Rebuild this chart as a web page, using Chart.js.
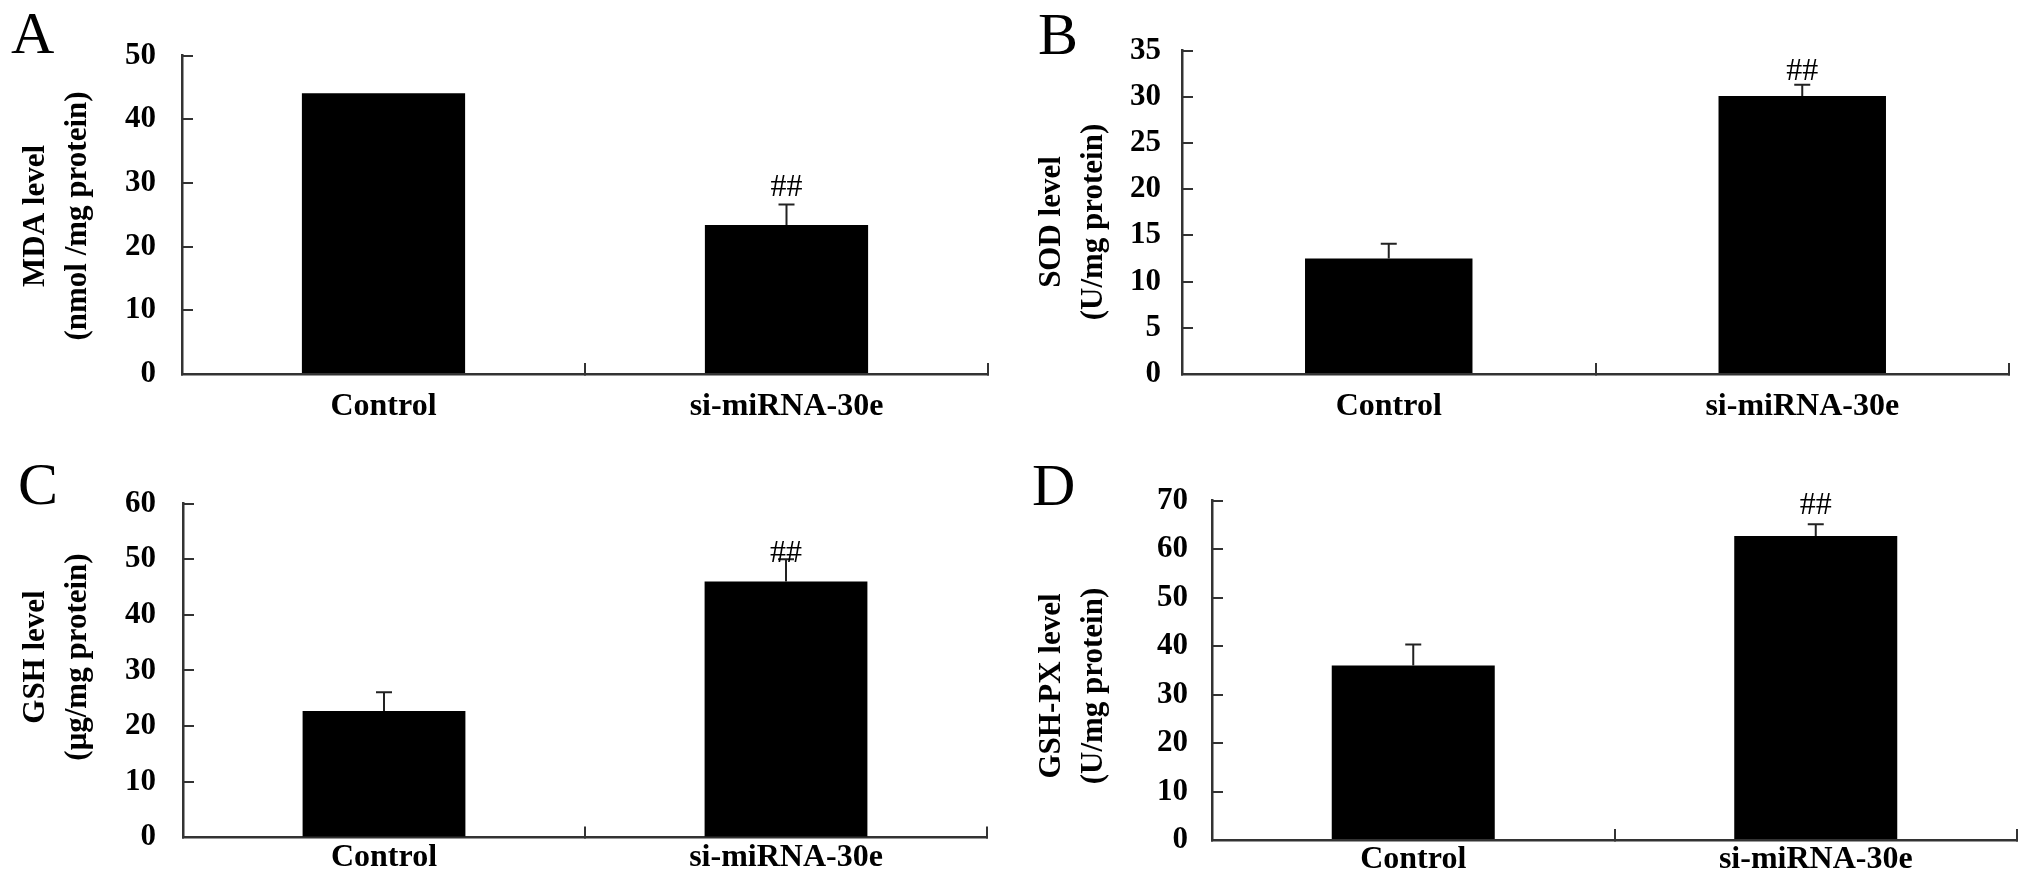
<!DOCTYPE html>
<html>
<head>
<meta charset="utf-8">
<script src="https://cdn.jsdelivr.net/npm/chart.js@4"></script>
<style>
  html, body { margin: 0; padding: 0; background: #fff; }
  #wrap { position: relative; width: 2031px; height: 894px; }
  .panel { position: absolute; }
</style>
</head>
<body>
<div id="wrap">
  <div class="panel" style="left:0;top:0;width:1000px;height:447px"><canvas id="panelA" width="1000" height="447"></canvas></div>
  <div class="panel" style="left:1000px;top:0;width:1031px;height:447px"><canvas id="panelB" width="1031" height="447"></canvas></div>
  <div class="panel" style="left:0;top:447px;width:1000px;height:447px"><canvas id="panelC" width="1000" height="447"></canvas></div>
  <div class="panel" style="left:1000px;top:447px;width:1031px;height:447px"><canvas id="panelD" width="1031" height="447"></canvas></div>
</div>
<script>
const categories = ['Control', 'si-miRNA-30e'];
const marks = ['', '##'];

const mdaValues = [44.1, 23.4];
const mdaErrors = [0, 3.2];

const sodValues = [12.5, 30.1];
const sodErrors = [1.6, 1.2];

const gshValues = [22.7, 46.0];
const gshErrors = [3.4, 4.0];

const gshpxValues = [36.0, 62.7];
const gshpxErrors = [4.3, 2.4];

const serif = '"Liberation Serif", "Times New Roman", serif';
Chart.defaults.font.family = serif;
Chart.defaults.color = '#000';

// error bars, ## marks, y title and the panel letter
const errorBars = {
  id: 'errorBars',
  afterDatasetsDraw(chart, args, opts) {
    const ctx = chart.ctx;
    const y = chart.scales.y;
    const values = chart.data.datasets[0].data;
    const meta = chart.getDatasetMeta(0);
    ctx.save();
    ctx.strokeStyle = '#222';
    ctx.lineWidth = 2;
    meta.data.forEach((bar, i) => {
      const err = opts.errors[i];
      const top = y.getPixelForValue(values[i] + err);
      if (err > 0) {
        ctx.beginPath();
        ctx.moveTo(bar.x, bar.y);
        ctx.lineTo(bar.x, top);
        ctx.moveTo(bar.x - 8, top);
        ctx.lineTo(bar.x + 8, top);
        ctx.stroke();
      }
      if (opts.marks[i]) {
        ctx.fillStyle = '#000';
        ctx.font = '32px ' + serif;
        ctx.textAlign = 'center';
        ctx.textBaseline = 'bottom';
        ctx.fillText(opts.marks[i], bar.x, top - opts.gap + 6);
      }
    });

    ctx.fillStyle = '#000';
    ctx.font = 'bold 31px ' + serif;
    ctx.textAlign = 'center';
    ctx.textBaseline = 'middle';
    opts.title.forEach((line, i) => {
      ctx.save();
      ctx.translate(opts.titleX + i * 42, opts.titleY);
      ctx.rotate(-Math.PI / 2);
      ctx.fillText(line, 0, 0);
      ctx.restore();
    });

    ctx.font = '60px ' + serif;
    ctx.textAlign = 'left';
    ctx.textBaseline = 'alphabetic';
    ctx.fillText(opts.letter, opts.letterX, opts.letterY);
    ctx.restore();
  }
};

function makePanel(id, p) {
  new Chart(document.getElementById(id), {
    type: 'bar',
    data: {
      labels: categories,
      datasets: [{
        data: p.values,
        backgroundColor: '#000',
        borderWidth: 0,
        barPercentage: 0.405,
        categoryPercentage: 1
      }]
    },
    plugins: [errorBars],
    options: {
      responsive: false,
      animation: false,
      events: [],
      layout: { padding: { top: p.padTop, right: p.padRight, left: 0, bottom: 0 } },
      plugins: {
        legend: { display: false },
        tooltip: { enabled: false },
        errorBars: {
          errors: p.errors,
          marks: marks,
          gap: p.markGap,
          title: p.title,
          titleX: p.titleX,
          titleY: p.titleY,
          letter: p.letter,
          letterX: p.letterX,
          letterY: p.letterY
        }
      },
      scales: {
        x: {
          afterFit: s => { s.height = p.xHeight; },
          grid: { display: true, drawOnChartArea: false, drawTicks: true, tickLength: -11, color: '#333', lineWidth: 2 },
          border: { display: true, color: '#333', width: 2.5 },
          ticks: { padding: p.xPad, maxRotation: 0, autoSkip: false, font: { size: 32, weight: 'bold' } }
        },
        y: {
          min: 0,
          max: p.max,
          afterFit: s => { s.width = p.yWidth; },
          grid: { display: true, drawOnChartArea: false, drawTicks: true, tickLength: -11, color: '#333', lineWidth: 2 },
          border: { display: true, color: '#333', width: 2.5 },
          ticks: { stepSize: p.step, padding: p.yPad, font: { size: 31, weight: 'bold' } }
        }
      }
    }
  });
}

makePanel('panelA', {
  values: mdaValues, errors: mdaErrors, max: 50, step: 10,
  title: ['MDA level', '(nmol /mg protein)'], titleX: 36, titleY: 216,
  padTop: 31, padRight: 12, yWidth: 182, xHeight: 73, xPad: 25, yPad: 37,
  markGap: 6.7, letter: 'A', letterX: 11, letterY: 53
});
makePanel('panelB', {
  values: sodValues, errors: sodErrors, max: 35, step: 5,
  title: ['SOD level', '(U/mg protein)'], titleX: 52, titleY: 222,
  padTop: 33, padRight: 22, yWidth: 182, xHeight: 73, xPad: 25, yPad: 32,
  markGap: 3, letter: 'B', letterX: 38, letterY: 54
});
makePanel('panelC', {
  values: gshValues, errors: gshErrors, max: 60, step: 10,
  title: ['GSH level', '(\u03bcg/mg protein)'], titleX: 36, titleY: 210,
  padTop: 44, padRight: 13, yWidth: 183, xHeight: 54, xPad: 12, yPad: 38,
  markGap: -4, letter: 'C', letterX: 18, letterY: 57
});
makePanel('panelD', {
  values: gshpxValues, errors: gshpxErrors, max: 70, step: 10,
  title: ['GSH-PX level', '(U/mg protein)'], titleX: 52, titleY: 239,
  padTop: 53, padRight: 14, yWidth: 212, xHeight: 54, xPad: 12, yPad: 35,
  markGap: 9, letter: 'D', letterX: 32, letterY: 58
});
</script>
</body>
</html>
